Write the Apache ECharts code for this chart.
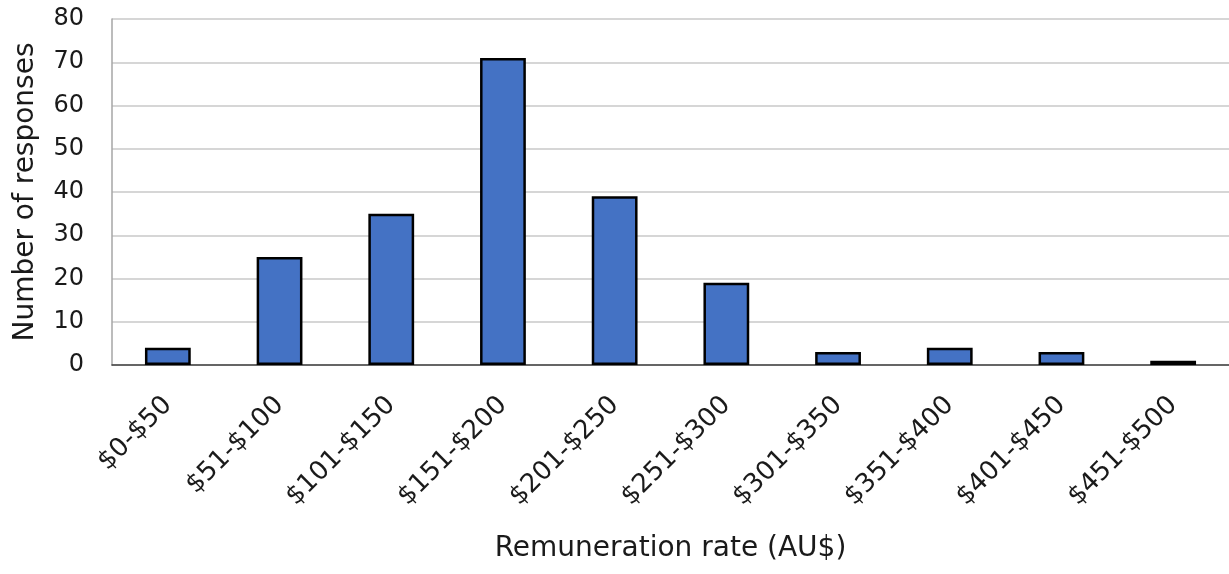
<!DOCTYPE html>
<html>
<head>
<meta charset="utf-8">
<script src="https://cdn.jsdelivr.net/npm/echarts@6/dist/echarts.min.js"></script>
<style>
  html, body { margin: 0; padding: 0; background: #fff; }
  #chart { width: 1229px; height: 574px; }
</style>
</head>
<body>
<div id="chart"></div>
<script>
// Remuneration bands and number of responses per band
const categories = ['$0-$50', '$51-$100', '$101-$150', '$151-$200', '$201-$250',
                    '$251-$300', '$301-$350', '$351-$400', '$401-$450', '$451-$500'];
const responses = [4, 25, 35, 71, 39, 19, 3, 4, 3, 1];
const yTicks = { min: 0, max: 80, interval: 10 };

const font = '"DejaVu Sans", "Open Sans", sans-serif';
const textColor = '#1a1a1a';
const chart = echarts.init(document.getElementById('chart'), null, { renderer: 'canvas' });

chart.setOption({
  animation: false,
  backgroundColor: '#ffffff',
  grid: { left: 112, right: 0, top: 19, bottom: 209, containLabel: false },
  xAxis: {
    type: 'category',
    data: categories,
    name: 'Remuneration rate (AU$)',
    nameLocation: 'middle',
    nameGap: 170,
    nameTextStyle: { fontFamily: font, fontSize: 28, color: textColor },
    axisLine: { lineStyle: { color: '#404040', width: 1.5 } },
    axisTick: { show: false },
    axisLabel: {
      rotate: 45,
      interval: 0,
      margin: 36,
      fontFamily: font,
      fontSize: 26,
      color: textColor
    }
  },
  yAxis: {
    type: 'value',
    min: yTicks.min,
    max: yTicks.max,
    interval: yTicks.interval,
    name: 'Number of responses',
    nameLocation: 'middle',
    nameGap: 72,
    nameTextStyle: { fontFamily: font, fontSize: 28, color: textColor },
    axisLine: { show: true, lineStyle: { color: '#a6a6a6', width: 1.5 } },
    axisTick: { show: false },
    axisLabel: { fontFamily: font, fontSize: 24, color: textColor, margin: 28 },
    splitLine: { lineStyle: { color: '#c8c8c8', width: 1.5 } }
  },
  series: [{
    type: 'bar',
    data: responses,
    barWidth: '41%',
    itemStyle: { color: '#4472c4', borderColor: '#000000', borderWidth: 2.5 }
  }]
});
</script>
</body>
</html>
